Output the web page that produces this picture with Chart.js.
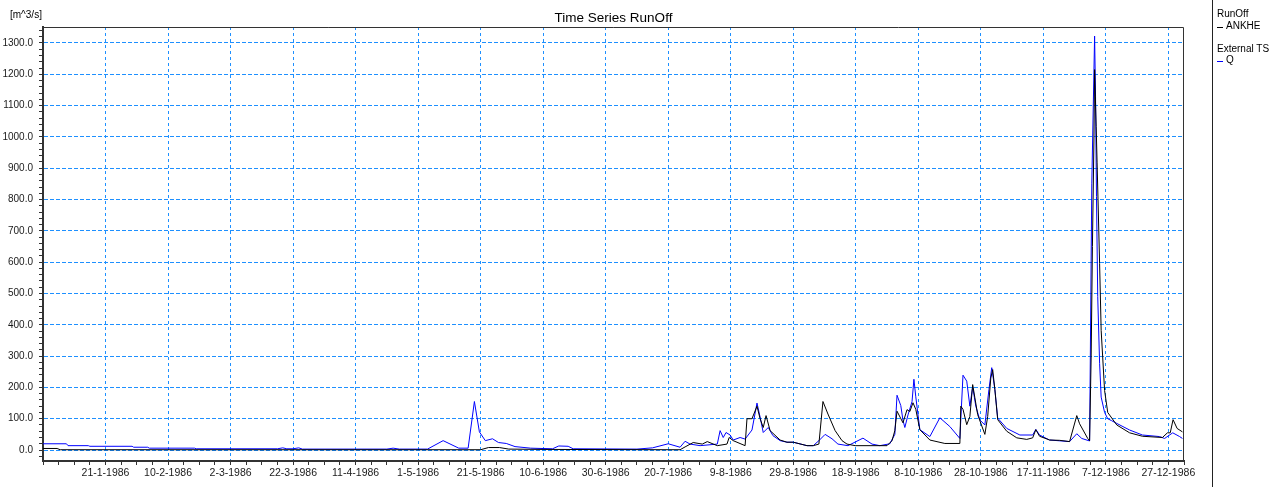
<!DOCTYPE html>
<html>
<head>
<meta charset="utf-8">
<script src="https://cdn.jsdelivr.net/npm/chart.js@4.4.1/dist/chart.umd.min.js"></script>
<style>
  html, body { margin: 0; padding: 0; background: #fff; }
  #wrap { position: relative; width: 1279px; height: 487px; overflow: hidden; font-family: "Liberation Sans", Arial, sans-serif; color: #000; }
  #box { position: absolute; left: 0; top: 0; width: 1279px; height: 487px; }
  .t { position: absolute; white-space: nowrap; }
  #title { left: 0; width: 1227px; text-align: center; top: 10px; font-size: 13.5px; line-height: 16px; }
  #unit { left: 10px; top: 9px; font-size: 10px; line-height: 12px; }
  #sep { position: absolute; left: 1212px; top: 0; width: 1px; height: 487px; background: #222; }
  .lg { font-size: 10px; line-height: 12px; left: 1217px; }
  .sw { position: absolute; left: 1217px; width: 6px; height: 1px; }
</style>
</head>
<body>
<div id="wrap">
  <div id="box"><canvas id="c"></canvas></div>
  <div class="t" id="title">Time Series RunOff</div>
  <div class="t" id="unit">[m^3/s]</div>
  <div id="sep"></div>
  <div class="t lg" style="top:8px;">RunOff</div>
  <div class="sw" style="top:27px;background:#000;"></div>
  <div class="t lg" style="top:20px;left:1226px;">ANKHE</div>
  <div class="t lg" style="top:43px;">External TS</div>
  <div class="sw" style="top:61px;background:#0000ff;"></div>
  <div class="t lg" style="top:54px;left:1226px;">Q</div>
</div>
<script>
// x = day of year 1986 (0 = 1-1-1986)
const xTickLabels = ['21-1-1986','10-2-1986','2-3-1986','22-3-1986','11-4-1986','1-5-1986','21-5-1986','10-6-1986','30-6-1986','20-7-1986','9-8-1986','29-8-1986','18-9-1986','8-10-1986','28-10-1986','17-11-1986','7-12-1986','27-12-1986'];

const ankheDays = [0,4.5,5.5,140,142.5,146,149,160,200,203.8,205.4,208,210.9,212.5,215.7,218.8,219.5,220.8,224.6,225.2,226.8,228.4,229.4,230.4,231.3,232.6,235.8,238,240,244.4,246.4,248.2,249.5,251.1,253.4,255.6,257.2,259.8,270,271.6,272.5,273.2,275.1,276.4,277.3,278.3,279.2,280.5,283.7,288.5,293.3,293.6,294.3,295.5,296.5,297.4,298.1,299,301.3,302.2,303.2,303.8,304.5,305.4,308.3,311.5,314.7,316.6,317.6,318.8,322,325.2,328.4,330.7,331.6,334.2,334.8,335.3,335.7,336.2,336.4,336.9,337.2,338,338.5,339.6,340.6,343.5,347.6,351.7,358.1,359.7,360.6,361.5,362.8,364.5];
const ankheValues = [5,5,1,1,8,8,3,2,1,1,10,24,19,27,14,19,40,30,14,100,100,140,100,72,110,62,32,25,25,14,14,19,155,115,62,30,19,14,14,30,62,124,87,129,123,151,130,65,32,21,21,140,130,81,107,209,167,113,50,107,230,257,193,97,60,39,34,39,65,44,32,31,27,110,84,37,30,300,650,1000,1215,1034,917,596,382,190,120,80,55,44,40,55,55,97,69,58];

const qDays = [0,7.5,8,14.5,15,28.5,29,33.5,34,48.5,49,75,76.7,78,80,81.8,83,110,112,114,123,128,133,136,138,139.6,141.5,143.8,145.7,148.2,151,156,163,165,168,169.6,190,195,200,203.8,205.4,207,210.2,215.7,216.6,217.6,218.5,219.8,220.8,223,224.6,226.8,228.4,229.4,230.4,232,233.5,235.8,238,240,244.4,246.4,248.2,250.2,252.4,254.3,257.5,262.3,265.2,267.7,270.9,272.5,273.2,274.4,275.1,275.7,276.7,278,278.6,279.2,280.5,283.7,286.9,290.1,293.3,294.3,295.5,296.5,297.4,298.4,299.7,301.3,302.6,303.5,304.5,305.4,308.3,312.5,316.6,317.6,318.8,322,328.4,330.7,332.3,334.8,335.5,336.4,336.7,337,337.4,338,338.5,339.6,340.6,341.8,343.5,347.6,351.7,357.2,358.8,361.4,363.6,364.5];
const qValues = [20,20,14,14,12,12,9,9,6,6,4,4,7,4,4,7,3,3,6,3,3,30,6,6,155,58,30,36,24,21,11,6,4,13,12,4,3,7,20,9,28,19,14,19,62,40,56,48,32,40,35,64,150,105,56,72,46,30,25,25,14,14,30,50,36,19,14,38,19,14,20,50,175,142,95,72,112,155,226,170,65,43,103,75,37,239,220,140,202,140,96,80,193,263,193,102,69,48,48,66,48,32,27,52,37,29,850,1322,1130,810,490,277,169,120,100,94,85,64,48,43,37,55,43,37];

const toXY = (xs, ys) => xs.map((x, i) => ({ x: x, y: ys[i] }));

const GRID = '#1e90ff';
const framePlugin = {
  id: 'frame',
  afterDraw(chart) {
    const { ctx, chartArea: a } = chart;
    ctx.save();
    ctx.strokeStyle = '#333';
    ctx.lineWidth = 1;
    ctx.beginPath();
    ctx.moveTo(a.left, a.top + 0.5);
    ctx.lineTo(a.right - 0.5, a.top + 0.5);
    ctx.lineTo(a.right - 0.5, a.bottom);
    ctx.stroke();
    ctx.restore();
  }
};

new Chart(document.getElementById('c'), {
  type: 'line',
  data: {
    datasets: [
      { label: 'ANKHE', data: toXY(ankheDays, ankheValues), borderColor: '#000000', borderWidth: 1, pointRadius: 0, tension: 0, fill: false },
      { label: 'Q', data: toXY(qDays, qValues), borderColor: '#0000ff', borderWidth: 1, pointRadius: 0, tension: 0, fill: false }
    ]
  },
  options: {
    responsive: true,
    maintainAspectRatio: false,
    animation: false,
    events: [],
    layout: { padding: { left: 0, right: 95, top: 27, bottom: 0 } },
    plugins: { legend: { display: false }, title: { display: false }, tooltip: { enabled: false } },
    scales: {
      x: {
        type: 'linear',
        min: 0,
        max: 365,
        afterFit(s) { s.height = 26; },
        afterBuildTicks(s) {
          const t = [];
          for (let v = 0; v <= 365; v += 5) t.push({ value: v });
          s.ticks = t;
        },
        ticks: {
          autoSkip: false,
          maxRotation: 0,
          padding: 2,
          color: '#1a1a1a',
          font: { family: 'Liberation Sans, Arial, sans-serif', size: 10.5 },
          callback: v => (v > 0 && v % 20 === 0) ? (xTickLabels[v / 20 - 1] || '') : ''
        },
        grid: {
          color: c => (c.tick && c.tick.value > 0 && c.tick.value % 20 === 0 && c.tick.value < 365) ? GRID : 'rgba(0,0,0,0)',
          lineWidth: 1,
          tickColor: '#333',
          tickLength: 4,
          drawTicks: true
        },
        border: { display: true, color: '#333', width: 2, dash: [3, 3] }
      },
      y: {
        type: 'linear',
        min: -35,
        max: 1351,
        afterFit(s) { s.width = 43; },
        afterBuildTicks(s) {
          const t = [];
          for (let v = -20; v <= 1340; v += 20) t.push({ value: v });
          s.ticks = t;
        },
        ticks: {
          autoSkip: false,
          padding: 6,
          color: '#1a1a1a',
          font: { family: 'Liberation Sans, Arial, sans-serif', size: 10 },
          callback: v => (v % 100 === 0) ? v.toFixed(1) : ''
        },
        grid: {
          color: c => (c.tick && c.tick.value % 100 === 0) ? GRID : 'rgba(0,0,0,0)',
          lineWidth: 1,
          tickColor: '#333',
          tickLength: 4
        },
        border: { display: true, color: '#333', width: 2, dash: [4, 2] }
      }
    }
  },
  plugins: [framePlugin]
});
</script>
</body>
</html>
